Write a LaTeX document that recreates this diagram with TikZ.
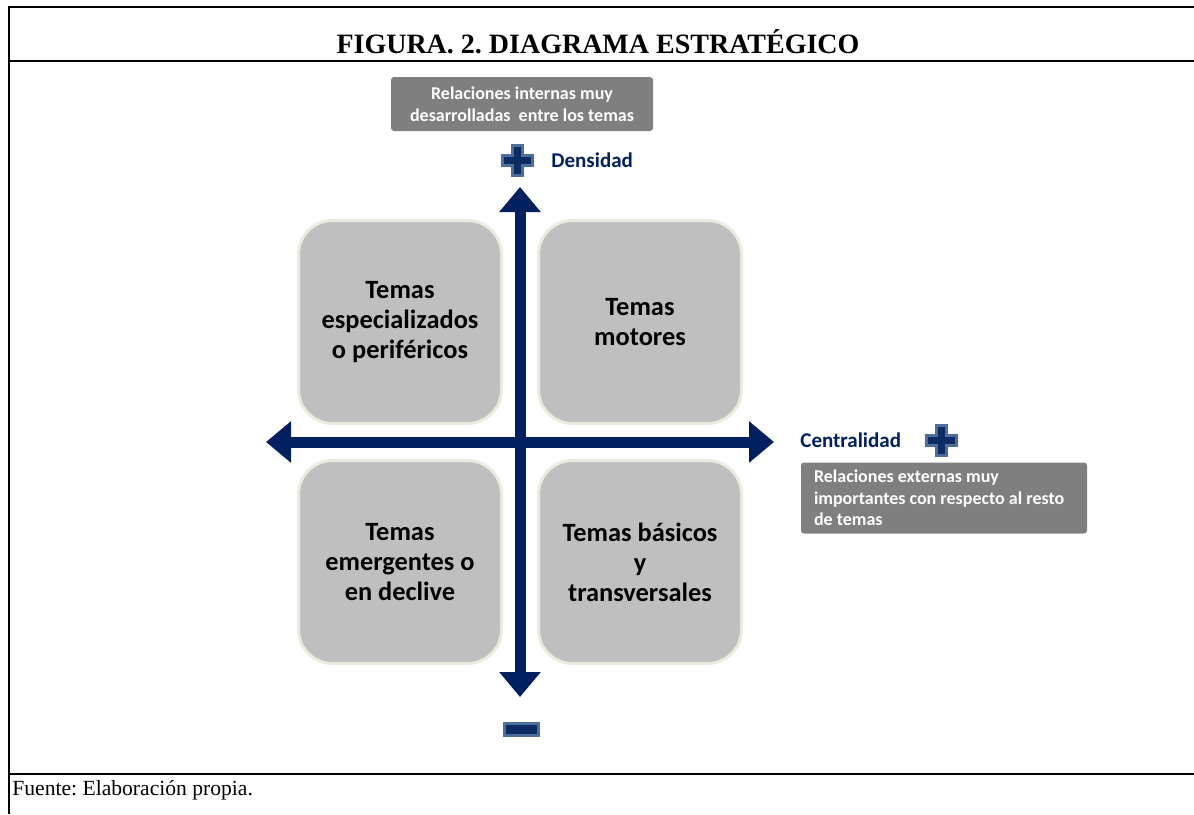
\documentclass[tikz,border=0pt]{standalone}
\usepackage{fontspec}
\setmainfont{Liberation Serif}
\newfontfamily\calibri{Carlito}
\usetikzlibrary{arrows.meta}
\frenchspacing
\definecolor{ejeazul}{HTML}{002060}
\definecolor{signofondo}{HTML}{0F2B63}
\definecolor{signoborde}{HTML}{4D6D9A}
\definecolor{cajagris}{HTML}{BFBFBF}
\definecolor{cajaborde}{HTML}{ECEADF}
\definecolor{etiquetagris}{HTML}{7F7F7F}
\def\signomas(#1,#2){\draw[signo, shift={(#1,#2)}] (-5,-15) -- (5,-15) -- (5,-5) -- (15,-5) -- (15,5) -- (5,5) -- (5,15) -- (-5,15) -- (-5,5) -- (-15,5) -- (-15,-5) -- (-5,-5) -- cycle;}
\def\signomenos(#1,#2){\draw[signo, shift={(#1,#2)}] (-17,-6) rectangle (17,6);}

\begin{document}
\begin{tikzpicture}[x=0.5pt, y=-0.5pt,
		marco/.style={line width=1.2pt, color=black},
		tema/.style={draw=cajaborde, line width=1.5pt, fill=cajagris, rounded corners=17pt, minimum width=101.5pt, minimum height=101.5pt, align=center, font=\calibri\bfseries\fontsize{13.2}{15}\selectfont},
		etiqueta/.style={fill=etiquetagris, text=white, rounded corners=1.5pt, inner ysep=2pt, font=\calibri\bfseries\fontsize{9}{10.8}\selectfont},
		eje/.style={line width=5.5pt, color=ejeazul, {Triangle[width=20pt, length=12.5pt]}-{Triangle[width=20pt, length=12.5pt]}},
		signo/.style={line width=1.5pt, draw=signoborde, fill=signofondo},
		nombreeje/.style={anchor=west, inner sep=0pt, text=ejeazul, font=\calibri\bfseries\fontsize{10.5}{12}\selectfont}]
			%%%%% START %%%%%
			
			\useasboundingbox (0,0) rectangle (1194,814);
			
			% marco de la tabla
			\draw[marco] (9,814) -- (9,7) -- (1194,7);
			\draw[marco] (9,61) -- (1194,61);
			\draw[marco] (9,774) -- (1194,774);
			
			\node (titulo) [anchor=base, inner sep=0pt, font=\bfseries\fontsize{14}{17}\selectfont] at (598,53) {FIGURA. 2. DIAGRAMA ESTRATÉGICO};
			\node (fuente) [anchor=base west, inner sep=0pt, font=\fontsize{10.8}{13}\selectfont] at (12,795) {Fuente: Elaboración propia.};
			
			% cuadrantes
			\node (especializados) [tema] at (400,322) {Temas\\especializados\\o periféricos};
			\node (motores) [tema] at (640,322) {Temas\\motores};
			\node (emergentes) [tema] at (400,562) {Temas\\emergentes o\\en declive};
			\node (basicos) [tema] at (640,562) {Temas básicos\\y\\transversales};
			
			% ejes
			\coordinate (ejeN) at (520,187);
			\coordinate (ejeS) at (520,697);
			\coordinate (ejeO) at (266,442);
			\coordinate (ejeE) at (774,442);
			\draw[eje] (ejeO) -- (ejeE);
			\draw[eje] (ejeS) -- (ejeN);
			
			\signomas(517,160);
			\signomas(941,440);
			\signomenos(521,729);
			
			\node (densidad) [nombreeje] at (551,160) {Densidad};
			\node (centralidad) [nombreeje] at (800,440) {Centralidad};
			
			\node (internas) [etiqueta, minimum width=131pt, minimum height=27pt, align=center] at (522,104) {Relaciones internas muy\\desarrolladas\ \ entre los temas};
			\node (externas) [etiqueta, text width=130pt, inner xsep=6.5pt, minimum height=35.5pt, align=flush left] at (944,498) {Relaciones externas muy\\importantes con respecto al resto\\de temas};
			
			%%%%% END %%%%%
\end{tikzpicture}
\end{document}
